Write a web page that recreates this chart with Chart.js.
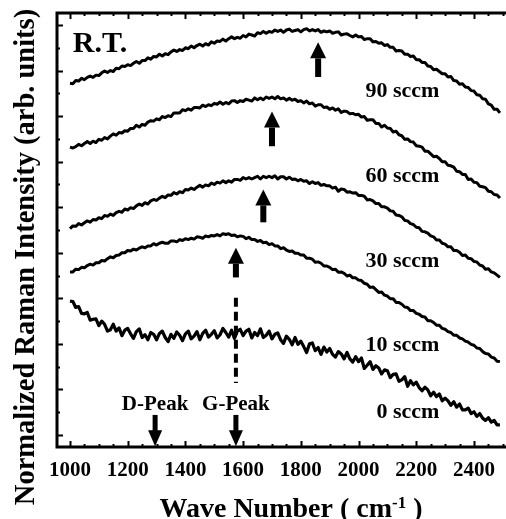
<!DOCTYPE html>
<html>
<head>
<meta charset="utf-8">
<script src="https://cdn.jsdelivr.net/npm/chart.js@4.4.1/dist/chart.umd.min.js"></script>
<style>
  html, body { margin: 0; padding: 0; background: #fff; }
  #ramanChart { display: block; }
</style>
</head>
<body>
<canvas id="ramanChart" width="506" height="519"></canvas>
<script>

// wave number grid (cm-1), one sample per 10 cm-1
const waveNumbers = [
  1000, 1010, 1020, 1030, 1040, 1050, 1060, 1070, 1080, 1090,
  1100, 1110, 1120, 1130, 1140, 1150, 1160, 1170, 1180, 1190,
  1200, 1210, 1220, 1230, 1240, 1250, 1260, 1270, 1280, 1290,
  1300, 1310, 1320, 1330, 1340, 1350, 1360, 1370, 1380, 1390,
  1400, 1410, 1420, 1430, 1440, 1450, 1460, 1470, 1480, 1490,
  1500, 1510, 1520, 1530, 1540, 1550, 1560, 1570, 1580, 1590,
  1600, 1610, 1620, 1630, 1640, 1650, 1660, 1670, 1680, 1690,
  1700, 1710, 1720, 1730, 1740, 1750, 1760, 1770, 1780, 1790,
  1800, 1810, 1820, 1830, 1840, 1850, 1860, 1870, 1880, 1890,
  1900, 1910, 1920, 1930, 1940, 1950, 1960, 1970, 1980, 1990,
  2000, 2010, 2020, 2030, 2040, 2050, 2060, 2070, 2080, 2090,
  2100, 2110, 2120, 2130, 2140, 2150, 2160, 2170, 2180, 2190,
  2200, 2210, 2220, 2230, 2240, 2250, 2260, 2270, 2280, 2290,
  2300, 2310, 2320, 2330, 2340, 2350, 2360, 2370, 2380, 2390,
  2400, 2410, 2420, 2430, 2440, 2450, 2460, 2470, 2480, 2490,
]

// normalized intensity, spectra stacked with offsets (arb. units)
const sccm90 = [
  7.72, 7.71, 7.78, 7.77, 7.83, 7.80, 7.85, 7.88, 7.85, 7.90,
  7.89, 7.95, 7.99, 7.96, 8.00, 7.98, 8.05, 8.04, 8.10, 8.09,
  8.13, 8.11, 8.16, 8.20, 8.16, 8.22, 8.22, 8.28, 8.25, 8.31,
  8.30, 8.36, 8.32, 8.37, 8.35, 8.41, 8.45, 8.42, 8.46, 8.44,
  8.50, 8.48, 8.54, 8.50, 8.55, 8.58, 8.54, 8.59, 8.56, 8.63,
  8.60, 8.65, 8.64, 8.69, 8.65, 8.70, 8.74, 8.70, 8.73, 8.71,
  8.77, 8.74, 8.80, 8.78, 8.76, 8.83, 8.81, 8.86, 8.82, 8.86,
  8.84, 8.89, 8.86, 8.89, 8.84, 8.89, 8.91, 8.86, 8.88, 8.90,
  8.85, 8.90, 8.92, 8.87, 8.90, 8.87, 8.90, 8.84, 8.87, 8.85,
  8.87, 8.82, 8.84, 8.85, 8.78, 8.80, 8.81, 8.77, 8.74, 8.78,
  8.74, 8.75, 8.68, 8.70, 8.70, 8.63, 8.64, 8.60, 8.61, 8.55,
  8.57, 8.51, 8.51, 8.43, 8.44, 8.43, 8.36, 8.36, 8.31, 8.32,
  8.24, 8.24, 8.18, 8.18, 8.10, 8.09, 8.02, 8.03, 7.98, 7.93,
  7.93, 7.86, 7.87, 7.78, 7.77, 7.70, 7.71, 7.64, 7.63, 7.56,
  7.55, 7.47, 7.46, 7.38, 7.37, 7.27, 7.24, 7.15, 7.15, 7.07,
]
const sccm60 = [
  6.32, 6.30, 6.33, 6.38, 6.35, 6.40, 6.44, 6.40, 6.45, 6.42,
  6.49, 6.47, 6.53, 6.50, 6.56, 6.61, 6.58, 6.64, 6.63, 6.68,
  6.67, 6.73, 6.73, 6.80, 6.76, 6.82, 6.80, 6.87, 6.90, 6.89,
  6.94, 6.92, 6.99, 6.97, 7.01, 6.99, 7.07, 7.07, 7.07, 7.14,
  7.12, 7.16, 7.13, 7.19, 7.19, 7.18, 7.24, 7.21, 7.25, 7.23,
  7.28, 7.26, 7.31, 7.26, 7.30, 7.27, 7.33, 7.34, 7.30, 7.34,
  7.32, 7.37, 7.35, 7.33, 7.40, 7.36, 7.40, 7.36, 7.42, 7.39,
  7.42, 7.38, 7.43, 7.38, 7.40, 7.35, 7.39, 7.35, 7.37, 7.32,
  7.34, 7.29, 7.33, 7.27, 7.29, 7.22, 7.25, 7.25, 7.19, 7.20,
  7.15, 7.18, 7.13, 7.16, 7.08, 7.11, 7.10, 7.05, 7.06, 7.03,
  7.04, 6.98, 6.99, 6.91, 6.92, 6.92, 6.84, 6.84, 6.76, 6.80,
  6.74, 6.73, 6.65, 6.67, 6.59, 6.57, 6.49, 6.50, 6.44, 6.43,
  6.35, 6.34, 6.32, 6.23, 6.23, 6.17, 6.11, 6.12, 6.07, 6.00,
  6.00, 5.92, 5.91, 5.88, 5.79, 5.78, 5.72, 5.72, 5.61, 5.62,
  5.55, 5.54, 5.46, 5.45, 5.43, 5.35, 5.34, 5.28, 5.27, 5.20,
]
const sccm30 = [
  4.53, 4.59, 4.58, 4.64, 4.61, 4.66, 4.70, 4.67, 4.73, 4.72,
  4.77, 4.75, 4.82, 4.80, 4.85, 4.82, 4.88, 4.91, 4.89, 4.96,
  4.94, 4.99, 4.97, 5.03, 5.07, 5.04, 5.10, 5.07, 5.14, 5.17,
  5.15, 5.20, 5.24, 5.21, 5.27, 5.26, 5.32, 5.29, 5.34, 5.32,
  5.39, 5.38, 5.42, 5.39, 5.44, 5.48, 5.44, 5.49, 5.47, 5.53,
  5.50, 5.55, 5.53, 5.58, 5.54, 5.58, 5.55, 5.61, 5.61, 5.59,
  5.65, 5.62, 5.65, 5.62, 5.65, 5.68, 5.62, 5.68, 5.65, 5.68,
  5.65, 5.69, 5.62, 5.67, 5.67, 5.62, 5.66, 5.61, 5.62, 5.58,
  5.61, 5.57, 5.58, 5.52, 5.56, 5.52, 5.54, 5.48, 5.50, 5.47,
  5.47, 5.42, 5.44, 5.35, 5.40, 5.39, 5.33, 5.34, 5.31, 5.32,
  5.26, 5.26, 5.24, 5.16, 5.17, 5.14, 5.08, 5.08, 5.01, 5.01,
  4.98, 4.92, 4.91, 4.83, 4.82, 4.79, 4.71, 4.70, 4.64, 4.62,
  4.56, 4.55, 4.47, 4.46, 4.43, 4.37, 4.35, 4.28, 4.28, 4.21,
  4.19, 4.13, 4.13, 4.05, 4.05, 4.01, 3.94, 3.95, 3.88, 3.87,
  3.81, 3.80, 3.73, 3.71, 3.64, 3.65, 3.58, 3.56, 3.51, 3.46,
]
const sccm10 = [
  3.58, 3.58, 3.64, 3.63, 3.68, 3.67, 3.72, 3.75, 3.73, 3.78,
  3.78, 3.83, 3.82, 3.87, 3.91, 3.89, 3.94, 3.95, 4.00, 4.00,
  4.05, 4.04, 4.08, 4.06, 4.10, 4.13, 4.11, 4.15, 4.15, 4.20,
  4.17, 4.21, 4.23, 4.21, 4.21, 4.26, 4.26, 4.24, 4.29, 4.27,
  4.31, 4.29, 4.32, 4.30, 4.35, 4.34, 4.32, 4.37, 4.35, 4.38,
  4.37, 4.40, 4.37, 4.42, 4.40, 4.42, 4.38, 4.39, 4.35, 4.37,
  4.36, 4.31, 4.34, 4.29, 4.29, 4.25, 4.27, 4.22, 4.23, 4.18,
  4.20, 4.15, 4.15, 4.09, 4.11, 4.06, 4.03, 4.04, 3.99, 3.99,
  3.95, 3.95, 3.88, 3.88, 3.86, 3.79, 3.80, 3.77, 3.71, 3.71,
  3.68, 3.63, 3.64, 3.57, 3.58, 3.55, 3.49, 3.51, 3.45, 3.45,
  3.40, 3.39, 3.33, 3.31, 3.24, 3.25, 3.19, 3.13, 3.14, 3.07,
  3.05, 2.99, 2.99, 2.91, 2.91, 2.87, 2.81, 2.80, 2.73, 2.73,
  2.67, 2.65, 2.60, 2.59, 2.51, 2.51, 2.47, 2.41, 2.41, 2.34,
  2.32, 2.27, 2.25, 2.19, 2.19, 2.13, 2.11, 2.06, 2.04, 1.99,
  1.97, 1.91, 1.90, 1.83, 1.79, 1.78, 1.71, 1.69, 1.62, 1.61,
]
const sccm0 = [
  2.94, 2.93, 2.80, 2.82, 2.67, 2.66, 2.69, 2.52, 2.54, 2.55,
  2.40, 2.50, 2.43, 2.28, 2.31, 2.43, 2.28, 2.35, 2.18, 2.30,
  2.34, 2.22, 2.12, 2.27, 2.33, 2.14, 2.20, 2.09, 2.25, 2.21,
  2.09, 2.23, 2.28, 2.14, 2.05, 2.21, 2.12, 2.26, 2.19, 2.07,
  2.22, 2.28, 2.11, 2.17, 2.27, 2.09, 2.23, 2.30, 2.15, 2.21,
  2.29, 2.13, 2.20, 2.34, 2.25, 2.15, 2.30, 2.12, 2.28, 2.32,
  2.18, 2.28, 2.32, 2.13, 2.25, 2.18, 2.33, 2.14, 2.19, 2.28,
  2.11, 2.21, 2.24, 2.09, 2.01, 2.17, 2.10, 1.98, 2.14, 1.99,
  2.06, 1.94, 1.81, 2.00, 2.02, 1.85, 1.92, 1.77, 1.93, 1.82,
  1.90, 1.77, 1.71, 1.83, 1.78, 1.67, 1.81, 1.67, 1.60, 1.72,
  1.61, 1.69, 1.46, 1.53, 1.61, 1.44, 1.52, 1.47, 1.34, 1.43,
  1.41, 1.26, 1.33, 1.34, 1.18, 1.21, 1.28, 1.07, 1.19, 1.10,
  1.16, 1.04, 0.97, 1.05, 0.99, 0.86, 0.94, 0.84, 0.90, 0.75,
  0.81, 0.75, 0.65, 0.73, 0.61, 0.68, 0.55, 0.55, 0.59, 0.47,
  0.51, 0.41, 0.47, 0.37, 0.32, 0.38, 0.28, 0.32, 0.22, 0.22,
]

const seriesNames = ['90 sccm', '60 sccm', '30 sccm', '10 sccm', '0 sccm']
const seriesValues = [sccm90, sccm60, sccm30, sccm10, sccm0]
// where each flow label sits (right edge x, baseline y)
const nameX = 2280
const nameY = [7.43, 5.56, 3.69, 1.85, 0.37]

const xTicks = [1000, 1200, 1400, 1600, 1800, 2000, 2200, 2400]
const yTicks = [0, 1, 2, 3, 4, 5, 6, 7, 8, 9]

// G-peak position of every spectrum (up arrows): x, tip, tail
const peakX = [1860, 1700, 1670, 1575]
const peakTip = [8.62, 7.10, 5.39, 4.11]
const peakTail = [7.87, 6.35, 4.68, 3.47]

// reference bands marked on the bottom axis
const bandNames = ['D-Peak', 'G-Peak']
const bandX = [1295, 1575]
const bandTail = 0.44
const bandTip = -0.25
const bandLabelY = 0.55
const guideFrom = 3.01, guideTo = 1.14   // dashed guide under the 10 sccm arrow

const FONT = "'Liberation Serif', 'Times New Roman', serif"

const toPoints = (ys) => waveNumbers.map((x, i) => ({ x, y: ys[i] }))

const arrow = (ctx, px, tail, tip, shaft, headW, headL) => {
  const dir = Math.sign(tip - tail)
  const headBase = tip - dir * headL
  ctx.fillRect(px - shaft / 2, Math.min(tail, headBase), shaft, Math.abs(headBase - tail) + 0.5)
  ctx.beginPath()
  ctx.moveTo(px, tip)
  ctx.lineTo(px - headW / 2, headBase)
  ctx.lineTo(px + headW / 2, headBase)
  ctx.closePath()
  ctx.fill()
}

// frame with inward ticks on left, bottom and top
const framePlugin = {
  id: 'frame',
  afterDraw(chart) {
    const { ctx, chartArea: a, scales: { x, y } } = chart
    ctx.save()
    ctx.strokeStyle = '#000'
    ctx.lineWidth = 3
    ctx.beginPath()
    ctx.moveTo(a.right + 2, a.top)
    ctx.lineTo(a.left, a.top)
    ctx.lineTo(a.left, a.bottom)
    ctx.lineTo(a.right + 2, a.bottom)
    ctx.stroke()

    ctx.lineWidth = 2
    ctx.beginPath()
    for (let v = 1000; v <= 2500; v += 50) {
      const px = Math.round(x.getPixelForValue(v)) + 0.5
      const len = xTicks.includes(v) ? 6 : 3
      ctx.moveTo(px, a.bottom); ctx.lineTo(px, a.bottom - len)
      ctx.moveTo(px, a.top); ctx.lineTo(px, a.top + len)
    }
    for (let v = 0; v <= 9; v += 0.5) {
      const py = Math.round(y.getPixelForValue(v)) + 0.5
      const len = yTicks.includes(v) ? 6 : 3
      ctx.moveTo(a.left, py); ctx.lineTo(a.left + len, py)
    }
    ctx.stroke()

    // axis titles
    ctx.fillStyle = '#000'
    ctx.font = `bold 28px ${FONT}`
    const t1 = 'Wave Number ( cm', sup = '-1', t2 = ' )'
    const w1 = ctx.measureText(t1).width, w3 = ctx.measureText(t2).width
    ctx.font = `bold 17px ${FONT}`
    const w2 = ctx.measureText(sup).width
    let sx = 291 - (w1 + w2 + w3) / 2
    ctx.textAlign = 'left'
    ctx.textBaseline = 'alphabetic'
    ctx.font = `bold 28px ${FONT}`
    ctx.fillText(t1, sx, 517)
    ctx.font = `bold 17px ${FONT}`
    ctx.fillText(sup, sx + w1, 508)
    ctx.font = `bold 28px ${FONT}`
    ctx.fillText(t2, sx + w1 + w2, 517)

    ctx.translate(34, 257)
    ctx.rotate(-Math.PI / 2)
    ctx.textAlign = 'center'
    ctx.font = `bold 28.5px ${FONT}`
    ctx.fillText('Normalized Raman Intensity (arb. units)', 0, 0)
    ctx.restore()
  }
}

// arrows, dashed guide and text inside the plot
const marksPlugin = {
  id: 'marks',
  afterDatasetsDraw(chart) {
    const { ctx, scales: { x, y } } = chart
    ctx.save()
    ctx.fillStyle = '#000'
    ctx.strokeStyle = '#000'

    peakX.forEach((v, i) => {
      arrow(ctx, x.getPixelForValue(v), y.getPixelForValue(peakTail[i]), y.getPixelForValue(peakTip[i]), 6, 16, 16)
    })
    bandX.forEach((v) => {
      arrow(ctx, x.getPixelForValue(v), y.getPixelForValue(bandTail), y.getPixelForValue(bandTip), 5, 14, 16)
    })

    ctx.lineWidth = 4
    ctx.setLineDash([9, 5])
    ctx.beginPath()
    const gx = x.getPixelForValue(bandX[1])
    ctx.moveTo(gx, y.getPixelForValue(guideFrom))
    ctx.lineTo(gx, y.getPixelForValue(guideTo))
    ctx.stroke()
    ctx.setLineDash([])

    ctx.textBaseline = 'alphabetic'
    ctx.font = `bold 21px ${FONT}`
    ctx.textAlign = 'center'
    bandNames.forEach((name, i) => ctx.fillText(name, x.getPixelForValue(bandX[i]), y.getPixelForValue(bandLabelY)))

    ctx.font = `bold 22px ${FONT}`
    ctx.textAlign = 'right'
    seriesNames.forEach((name, i) => ctx.fillText(name, x.getPixelForValue(nameX), y.getPixelForValue(nameY[i])))

    ctx.font = `bold 30px ${FONT}`
    ctx.textAlign = 'left'
    ctx.fillText('R.T.', x.getPixelForValue(1010), y.getPixelForValue(8.40))
    ctx.restore()
  }
}

const datasets = seriesNames.map((name, i) => ({
  label: name,
  data: toPoints(seriesValues[i]),
  borderColor: '#000',
  borderWidth: i === 4 ? 3.2 : 3,
  borderJoinStyle: 'round',
  pointRadius: 0,
  fill: false,
  tension: 0,
}))

new Chart(document.getElementById('ramanChart'), {
  type: 'line',
  data: { datasets },
  options: {
    responsive: false,
    devicePixelRatio: 1,
    animation: false,
    layout: { padding: { top: 13, right: 0, left: 0, bottom: 0 } },
    plugins: { legend: { display: false }, tooltip: { enabled: false } },
    scales: {
      x: {
        type: 'linear',
        min: 955,
        max: 2511,
        grid: { display: false, drawTicks: false },
        border: { display: false },
        afterBuildTicks: (s) => { s.ticks = xTicks.map(v => ({ value: v })) },
        afterFit: (s) => { s.height = 72 },
        ticks: {
          color: '#000',
          font: { family: FONT, size: 21, weight: 'bold' },
          padding: 11,
          maxRotation: 0,
          autoSkip: false,
          callback: (v) => String(v),
        },
      },
      y: {
        type: 'linear',
        min: -0.264,
        max: 9.264,
        grid: { display: false, drawTicks: false },
        border: { display: false },
        ticks: { display: false },
        afterFit: (s) => { s.width = 57 },
      },
    },
  },
  plugins: [framePlugin, marksPlugin],
})
</script>
</body>
</html>
